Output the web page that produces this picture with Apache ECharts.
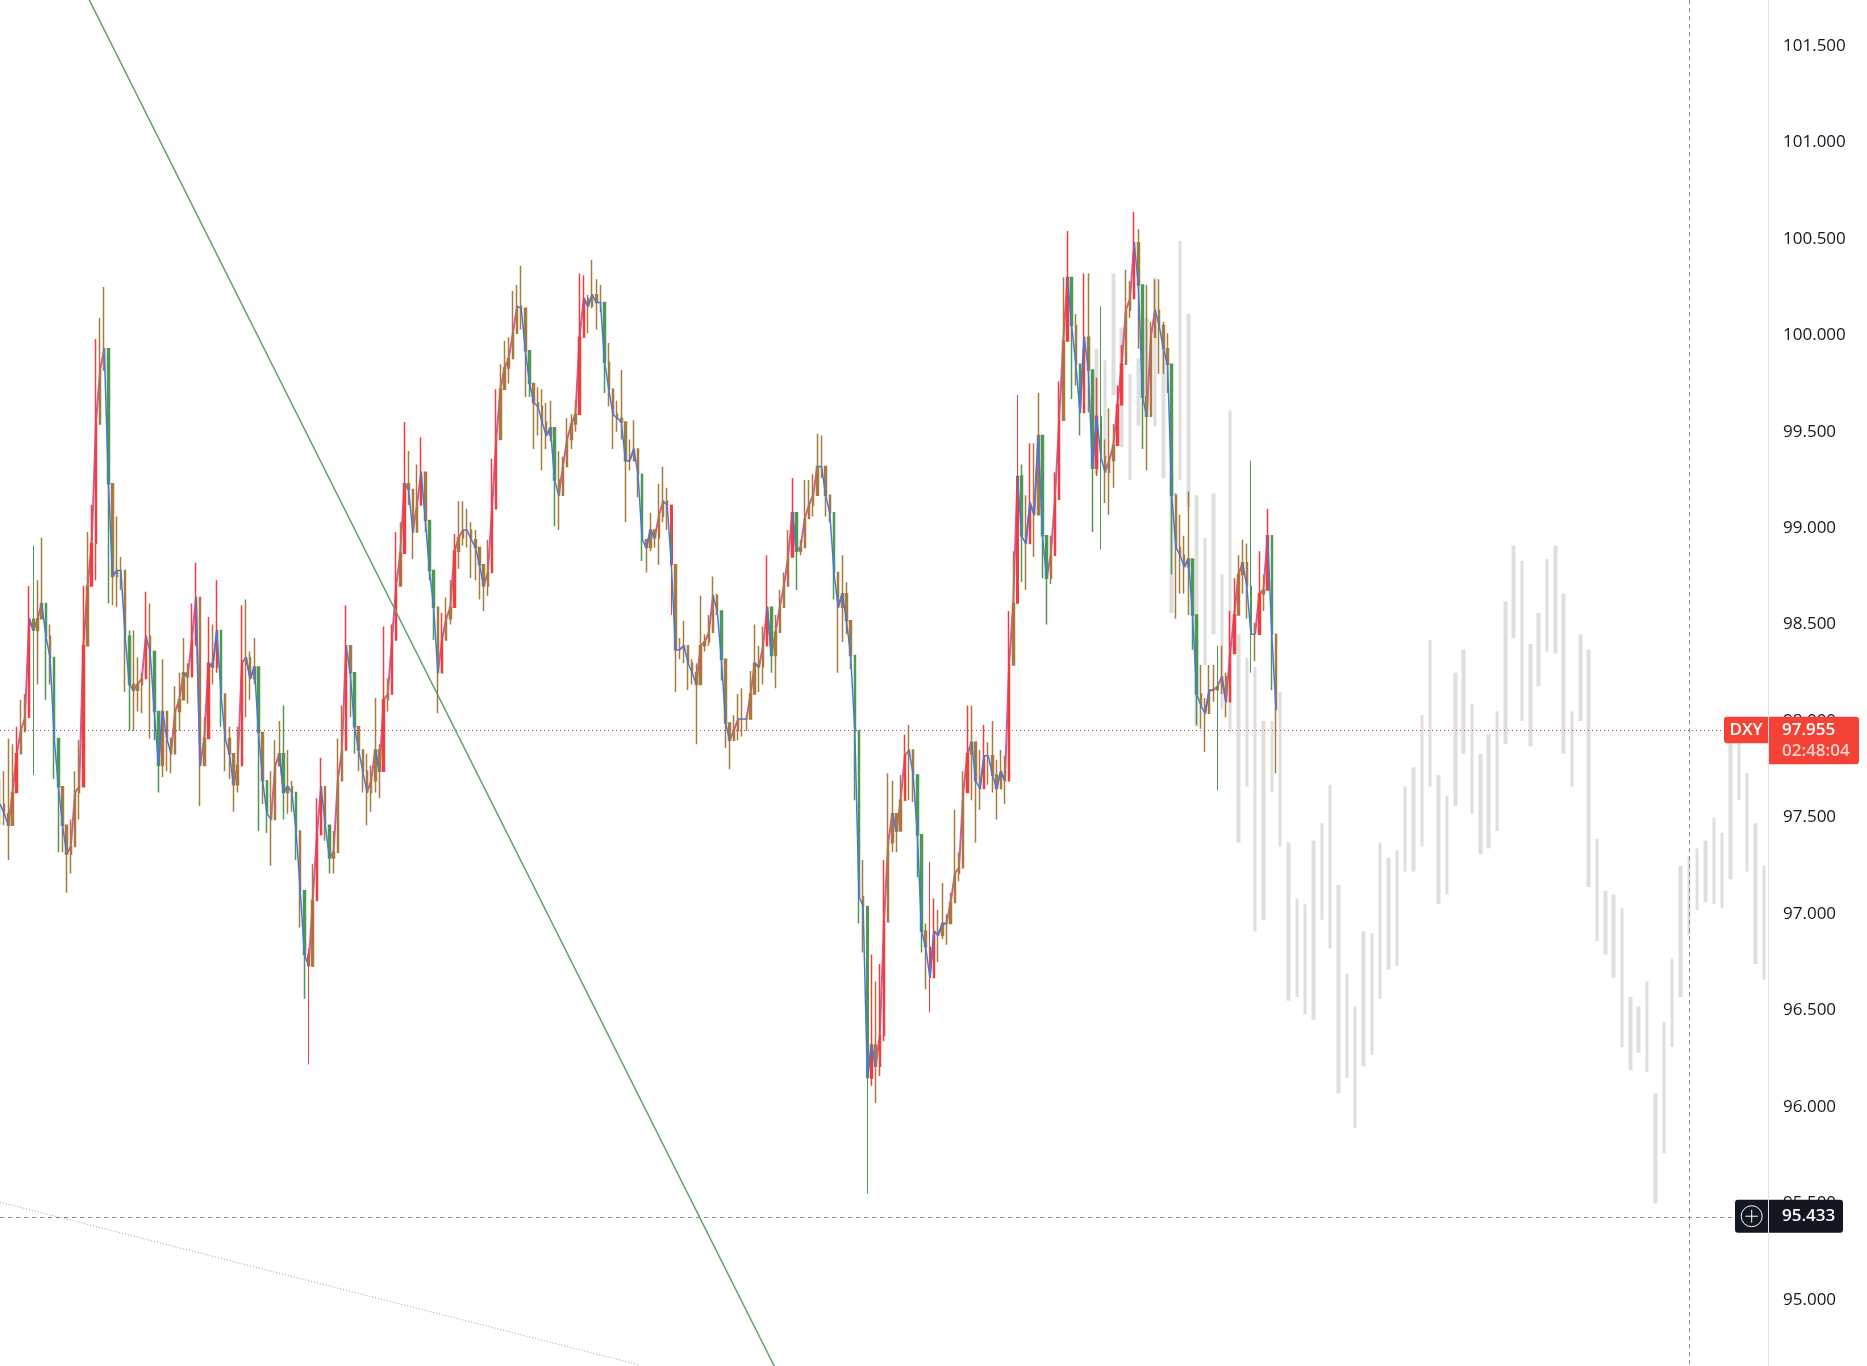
<!DOCTYPE html>
<html><head><meta charset="utf-8">
<style>html,body{margin:0;padding:0;background:#fff}#c{width:1867px;height:1366px}</style>
<script src="https://cdn.jsdelivr.net/npm/echarts@6/dist/echarts.min.js"></script>
</head><body><div id="c"></div>
<script>
const symbolName='DXY';
const lastPrice=97.955;
const countdown='02:48:04';
const crossPrice=95.433;
const crossBar=405;
const barCount=425;
const ghostFirstBar=263;
const ghostStep=2;
const priceHighs=[
97.70,97.74,97.91,97.88,97.97,98.11,98.14,98.70,98.91,98.73,
98.95,98.52,98.50,98.05,97.74,97.60,97.41,97.49,97.74,97.90,
98.70,98.98,99.12,99.98,100.09,100.25,99.74,98.95,99.06,98.85,
98.75,98.47,98.47,98.33,98.25,98.67,98.61,98.22,97.91,98.32,
98.05,97.91,98.18,98.25,98.43,98.30,98.61,98.82,98.14,98.02,
98.54,98.50,98.73,98.30,98.12,97.97,97.74,97.97,98.60,98.63,
98.36,98.43,98.19,97.85,97.60,97.74,97.90,98.00,98.08,97.85,
97.69,97.52,97.35,96.96,96.82,97.26,97.60,97.81,97.52,97.38,
97.43,97.91,98.08,98.60,98.39,98.11,97.97,97.85,97.83,97.77,
98.12,97.88,98.49,98.22,98.50,98.98,99.03,99.55,99.40,99.20,
99.33,99.47,99.26,98.92,98.73,98.42,98.56,98.64,98.73,
98.97,99.14,99.14,99.10,99.03,98.99,98.88,98.79,98.94,99.36,
99.72,99.85,99.97,99.99,100.23,100.26,100.36,100.10,99.86,99.74,
99.73,99.72,99.65,99.66,99.43,99.40,99.37,99.57,99.59,99.66,
100.32,100.31,100.21,100.39,100.29,100.26,100.03,99.96,99.72,99.66,
99.82,99.52,99.46,99.56,99.37,99.01,98.94,99.08,98.99,99.23,
99.32,99.21,98.99,98.52,98.43,98.52,98.37,98.32,98.30,98.65,
98.45,98.55,98.75,98.66,98.43,98.18,97.97,98.03,98.14,98.17,
98.03,98.26,98.50,98.39,98.49,98.86,98.39,98.55,98.68,98.77,
98.99,99.26,98.99,98.94,99.25,99.25,99.28,99.49,99.48,99.28,
99.14,98.90,98.68,98.86,98.72,98.48,98.26,
97.28,97.28,96.80,96.79,96.65,96.74,97.28,97.73,97.69,97.50,
97.72,97.93,97.98,97.85,97.63,97.19,96.95,97.27,97.08,97.02,
97.16,97.00,97.11,97.54,97.32,97.74,98.08,98.08,97.85,97.85,
97.98,97.89,98.00,97.80,97.85,97.82,
98.57,98.88,99.69,99.33,99.17,99.44,99.44,99.70,99.48,98.90,
98.96,99.29,99.76,100.30,100.54,100.21,100.11,99.72,100.32,100.32,
99.78,99.78,100.15,99.46,99.62,99.54,99.74,99.95,100.34,100.28,
100.64,100.55,99.93,100.26,100.07,100.29,100.29,100.07,100.01,99.70,
99.18,99.07,98.96,99.19,98.66,98.39,98.29,98.12,98.29,98.29,
98.39,98.39,98.25,98.57,98.74,98.86,98.94,98.92,99.35,98.51,
98.88,98.76,99.10,98.66,98.21];
const priceLows=[
97.46,97.46,97.28,97.55,97.74,97.83,97.94,98.19,97.72,98.19,
98.59,98.11,98.19,97.70,97.32,97.32,97.11,97.21,97.49,97.49,
97.91,98.53,98.73,98.73,99.74,99.91,98.61,98.60,98.59,98.68,
98.15,97.95,97.95,98.05,98.04,98.39,97.91,97.90,97.63,97.71,
97.74,97.73,97.91,97.95,98.11,98.09,98.28,98.39,97.56,97.84,
98.08,98.19,98.25,97.97,97.74,97.70,97.53,97.63,98.02,98.02,
98.11,98.19,97.43,97.57,97.42,97.25,97.63,97.77,97.49,97.52,
97.53,97.28,96.93,96.56,96.22,96.84,97.12,97.49,97.38,97.21,
97.21,97.43,97.78,98.19,98.02,97.83,97.74,97.63,97.46,97.53,
97.63,97.60,98.00,98.05,98.30,98.59,98.70,98.95,99.12,98.84,
99.09,99.23,98.98,98.73,98.42,98.04,98.39,98.44,98.50,
98.79,98.79,98.91,98.90,98.74,98.73,98.63,98.57,98.65,99.03,
99.26,99.65,99.72,99.75,99.96,100.10,100.03,99.68,99.68,99.41,
99.48,99.30,99.41,99.45,99.01,98.99,99.25,99.41,99.41,99.50,
99.81,100.01,100.01,100.14,100.03,100.12,99.70,99.63,99.41,99.50,
99.46,99.03,99.30,99.37,99.16,98.83,98.77,98.88,98.90,98.81,
99.03,98.99,98.55,98.15,98.32,98.30,98.16,98.19,97.88,98.25,
98.36,98.39,98.54,98.55,98.21,97.86,97.75,97.93,97.90,97.92,
97.95,98.03,98.19,98.15,98.19,98.43,98.25,98.17,98.52,98.63,
98.81,98.94,98.68,98.86,98.95,99.05,99.06,99.21,99.26,99.06,
99.03,98.63,98.25,98.41,98.45,98.27,97.59,
96.95,96.80,95.55,96.11,96.02,96.16,96.34,97.19,97.32,97.32,
97.50,97.61,97.59,97.58,97.19,96.80,96.61,96.49,96.78,96.75,
96.87,96.84,97.00,97.09,97.17,97.32,97.78,97.59,97.37,97.54,
97.72,97.67,97.63,97.49,97.67,97.57,
97.96,98.47,98.90,98.72,98.68,98.96,98.85,99.27,98.74,98.50,
98.71,98.96,99.21,99.74,100.17,99.67,99.74,99.48,99.85,99.60,
98.98,99.27,98.89,99.13,99.07,99.21,99.43,99.74,100.05,100.09,
100.46,99.93,99.41,99.30,99.89,100.05,99.80,99.80,99.70,98.76,
98.53,98.66,98.66,98.55,98.37,97.98,97.96,97.84,98.10,98.10,
97.64,98.14,98.02,98.19,98.45,98.61,98.66,98.53,98.25,98.31,
98.57,98.57,98.78,98.16,97.73];
const priceCloses=[
97.57,97.52,97.46,97.63,97.83,97.95,98.02,98.53,98.47,98.53,
98.61,98.44,98.33,97.91,97.66,97.46,97.31,97.35,97.63,97.66,
98.39,98.70,98.92,99.54,99.82,99.93,99.23,98.75,98.78,98.78,
98.44,98.19,98.16,98.19,98.22,98.44,98.36,98.05,97.77,98.05,
97.91,97.83,98.05,98.11,98.25,98.23,98.42,98.64,97.77,97.91,
98.30,98.28,98.47,98.14,97.91,97.83,97.67,97.77,98.30,98.33,
98.22,98.28,97.94,97.69,97.52,97.49,97.77,97.83,97.63,97.66,
97.63,97.43,97.12,96.79,96.73,97.07,97.41,97.66,97.46,97.29,
97.32,97.69,97.85,98.39,98.25,97.97,97.85,97.74,97.63,97.69,
97.85,97.74,98.11,98.14,98.42,98.70,98.87,99.23,99.20,98.98,
99.12,99.29,99.04,98.78,98.59,98.25,98.42,98.53,98.59,
98.88,98.95,98.99,98.99,98.94,98.90,98.81,98.70,98.77,99.10,
99.46,99.72,99.83,99.88,100.01,100.15,100.14,99.92,99.75,99.65,
99.63,99.55,99.48,99.52,99.25,99.17,99.32,99.46,99.54,99.59,
99.99,100.19,100.15,100.21,100.17,100.17,99.86,99.72,99.59,99.57,
99.55,99.35,99.35,99.41,99.28,98.94,98.90,98.99,98.95,99.06,
99.14,99.12,98.81,98.37,98.37,98.39,98.30,98.25,98.19,98.39,
98.41,98.46,98.65,98.57,98.32,97.99,97.90,97.95,98.01,98.01,
98.01,98.14,98.30,98.28,98.39,98.59,98.34,98.46,98.59,98.70,
98.85,99.08,98.88,98.90,99.05,99.12,99.17,99.32,99.32,99.17,
99.08,98.77,98.59,98.66,98.52,98.34,97.95,
97.09,97.04,96.15,96.32,96.21,96.37,96.96,97.37,97.52,97.43,
97.59,97.82,97.85,97.72,97.41,96.91,96.83,96.67,96.91,96.89,
96.95,96.95,97.06,97.21,97.24,97.63,97.83,97.89,97.69,97.65,
97.82,97.82,97.72,97.65,97.74,97.69,
98.29,98.61,99.27,98.96,98.92,99.13,99.07,99.48,98.96,98.74,
98.86,99.15,99.56,99.97,100.30,100.05,99.85,99.60,99.99,99.82,
99.31,99.58,99.37,99.29,99.35,99.43,99.64,99.85,100.13,100.19,
100.48,100.26,99.68,99.58,99.99,100.13,100.05,99.93,99.85,99.17,
98.90,98.86,98.80,98.84,98.55,98.14,98.08,98.04,98.16,98.16,
98.18,98.23,98.10,98.35,98.55,98.76,98.82,98.70,98.45,98.45,
98.66,98.68,98.96,98.45,98.06];
const greenSpikeBars=[8,208,264,292,300];
const redSpikeBars=[74,244,161,223];
const ghostHighs=[
99.93,99.87,100.32,100.04,99.80,99.88,100.09,100.30,99.92,99.27,100.49,100.11,99.17,98.95,99.18,98.76,99.61,
98.45,98.33,98.28,98.00,98.00,98.15,97.37,97.08,97.05,97.38,97.47,97.67,97.15,96.69,96.52,96.91,96.90,
97.37,97.29,97.33,97.66,97.76,98.03,98.42,97.72,97.61,98.25,98.37,98.09,97.83,97.93,98.05,98.62,98.91,98.83,98.40,98.56,98.84,98.91,98.66,98.05,98.45,98.37,
97.39,97.12,97.10,97.03,96.57,96.52,96.65,96.07,96.44,96.77,97.25,97.30,97.34,97.38,97.50,97.42,97.98,97.98,97.73,97.47,97.25];
const ghostLows=[
99.28,99.37,99.69,99.42,99.25,99.53,99.60,99.53,99.26,98.56,99.25,99.11,97.97,98.29,98.45,98.06,97.94,
97.37,97.66,96.91,96.97,97.63,97.35,96.55,96.57,96.48,96.45,96.97,96.82,96.07,96.15,95.89,96.21,96.27,
96.56,96.71,96.73,97.22,97.22,97.35,97.66,97.05,97.10,97.56,97.83,97.52,97.31,97.34,97.43,97.88,98.43,98.00,97.87,98.18,98.36,98.35,97.83,97.66,98.00,97.14,
96.86,96.79,96.67,96.31,96.19,96.28,96.18,95.50,95.76,96.31,96.57,96.89,97.02,97.06,97.05,97.03,97.18,97.59,97.22,96.74,96.66];
const yTicks={min:94.5,max:102,interval:0.5};
const trendBars=[21,186];
const trendPrices=[101.756,94.642];
const dottedBars=[0,153];
const dottedPrices=[95.506,94.664];

const colUp='#F23D3D',colDown='#4C9A52',colMix='#A87A3E',colGhost='#DEDEDE',colRed='#F44336',colDark='#131722';
const cats=Array.from({length:barCount},(_,i)=>String(i));
const candles=priceCloses.map((c,i)=>{
  const o=i?priceCloses[i-1]:c,d=c-o;
  let col=Math.abs(d)<0.16?colMix:(d>0?colUp:colDown);
  let wick=col===colMix?colMix:(i%3===0?colMix:col),bw=1.5;
  if(greenSpikeBars.includes(i)){wick=colDown;bw=1;}
  if(redSpikeBars.includes(i)){wick=colUp;bw=1;}
  return {value:[o,c,priceLows[i],priceHighs[i]],itemStyle:{color:col,color0:col,borderColor:wick,borderColor0:wick,borderWidth:bw}};
});
const ghost=cats.map(()=>['-','-','-','-']);
ghostHighs.forEach((h,k)=>{const l=ghostLows[k];ghost[ghostFirstBar+k*ghostStep]=[l,h,l,h];});
function segs(up){
  return priceCloses.map((c,i)=>{
    const a=i>0&&(priceCloses[i]>priceCloses[i-1])===up;
    const b=i<priceCloses.length-1&&(priceCloses[i+1]>priceCloses[i])===up;
    return a||b?c:null;
  });
}
const chart=echarts.init(document.getElementById('c'),null,{renderer:'canvas',width:1867,height:1366});
chart.setOption({
  animation:false,backgroundColor:'#ffffff',
  grid:{left:0,right:99,top:-50.55,bottom:-30.2,containLabel:false,outerBoundsMode:'none'},
  xAxis:{type:'category',data:cats,boundaryGap:false,show:false},
  yAxis:{type:'value',position:'right',min:yTicks.min,max:yTicks.max,interval:yTicks.interval,scale:true,
    splitLine:{show:false},axisTick:{show:false},
    axisLine:{show:true,onZero:false,lineStyle:{color:'#E0E3EB',width:1}},
    axisLabel:{margin:15,color:'#131722',fontFamily:'Open Sans',fontSize:17,padding:[4,0,0,0],formatter:v=>v.toFixed(3)}},
  series:[
    {name:'Projection',type:'candlestick',data:ghost,barWidth:4,z:1,silent:true,
      itemStyle:{color:colGhost,color0:colGhost,borderColor:colGhost,borderColor0:colGhost,borderWidth:0}},
    {name:'Average rising',type:'line',data:segs(true),showSymbol:false,symbol:'none',z:2,silent:true,lineStyle:{color:'#D45A9A',width:2}},
    {name:'DXY',type:'candlestick',data:candles,barWidth:2,z:3,silent:true},
    {name:'Average falling',type:'line',data:segs(false),showSymbol:false,symbol:'none',z:4,silent:true,lineStyle:{color:'#4A78D8',width:1.5}},
    {name:'Trend',type:'line',data:trendBars.map((b,i)=>[b,trendPrices[i]]),symbol:'none',z:4,silent:true,lineStyle:{color:'#5FA463',width:1.5}},
    {name:'Channel',type:'line',data:dottedBars.map((b,i)=>[b,dottedPrices[i]]),symbol:'none',z:4,silent:true,lineStyle:{color:'#7FB08F',width:1,type:[1,2]}},
    {name:'Levels',type:'line',data:[],z:5,silent:true,
      markLine:{silent:true,symbol:'none',animation:false,label:{show:false},data:[
        {yAxis:lastPrice,lineStyle:{color:'#C93A55',width:1,type:[1,3]}},
        {yAxis:crossPrice,lineStyle:{color:'#85888F',width:1,type:[4,4]}},
        {xAxis:crossBar,lineStyle:{color:'#85888F',width:1,type:[4,4]}}
      ]}}
  ]
});
const axisX=1768;
const yLast=chart.convertToPixel({yAxisIndex:0},lastPrice);
const yCross=chart.convertToPixel({yAxisIndex:0},crossPrice);
const font='"Open Sans"';
chart.setOption({graphic:{elements:[
  {type:'rect',z:100,shape:{x:axisX-44,y:yLast-13,width:44,height:26.5,r:[3,0,0,3]},style:{fill:colRed}},
  {type:'text',z:101,style:{x:axisX-22,y:yLast,text:symbolName,fill:'#fff',font:'600 17px '+font,align:'center',verticalAlign:'middle'}},
  {type:'rect',z:100,shape:{x:axisX+1,y:yLast-13,width:90,height:47.5,r:[0,3,3,0]},style:{fill:colRed}},
  {type:'text',z:101,style:{x:axisX+14,y:yLast,text:lastPrice.toFixed(3),fill:'#fff',font:'600 17px '+font,verticalAlign:'middle'}},
  {type:'text',z:101,style:{x:axisX+14,y:yLast+21,text:countdown,fill:'#FFD2CC',font:'600 17px '+font,verticalAlign:'middle'}},
  {type:'rect',z:100,shape:{x:axisX-33,y:yCross-16.5,width:33,height:33,r:[3,0,0,3]},style:{fill:colDark}},
  {type:'rect',z:100,shape:{x:axisX+1,y:yCross-16.5,width:74,height:33,r:[0,3,3,0]},style:{fill:colDark}},
  {type:'circle',z:101,shape:{cx:axisX-16.3,cy:yCross,r:10.5},style:{fill:'none',stroke:'#fff',lineWidth:1}},
  {type:'line',z:101,shape:{x1:axisX-22.5,y1:yCross,x2:axisX-10,y2:yCross},style:{stroke:'#fff',lineWidth:1}},
  {type:'line',z:101,shape:{x1:axisX-16.3,y1:yCross-6.5,x2:axisX-16.3,y2:yCross+6.5},style:{stroke:'#fff',lineWidth:1}},
  {type:'text',z:101,style:{x:axisX+14,y:yCross,text:crossPrice.toFixed(3),fill:'#fff',font:'600 17px '+font,verticalAlign:'middle'}}
]}});
</script></body></html>
